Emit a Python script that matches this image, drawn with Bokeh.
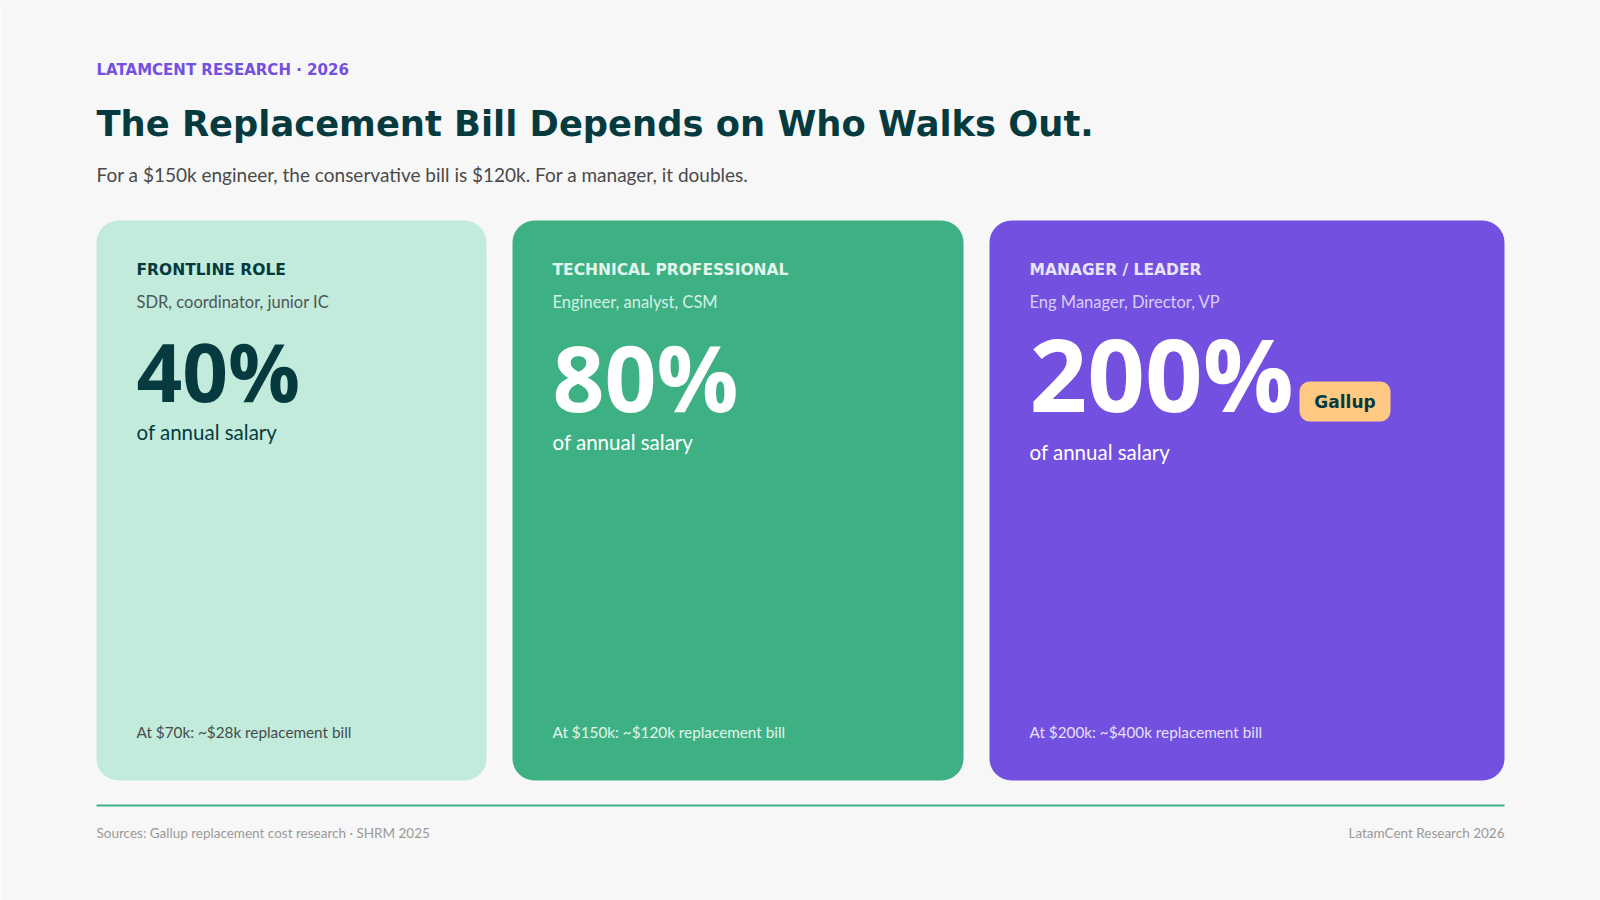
from bokeh.core.properties import value
from bokeh.embed import file_html
from bokeh.models import BoxAnnotation, ColumnDataSource, Range1d
from bokeh.plotting import figure
from bokeh.resources import INLINE

# ---- data ----
roles = ["FRONTLINE ROLE", "TECHNICAL PROFESSIONAL", "MANAGER / LEADER"]
examples = ["SDR, coordinator, junior IC",
            "Engineer, analyst, CSM",
            "Eng Manager, Director, VP"]
cost_pct = [40, 80, 200]
salary_k = [70, 150, 200]
bill_k = [28, 120, 400]
source_tag = ["", "", "Gallup"]

eyebrow = "LATAMCENT RESEARCH · 2026"
title = "The Replacement Bill Depends on Who Walks Out."
subtitle = ("For a $150k engineer, the conservative bill is $120k. "
            "For a manager, it doubles.")
footer_left = "Sources: Gallup replacement cost research · SHRM 2025"
footer_right = "LatamCent Research 2026"

# ---- styles ----
BG = "#F7F7F7"
DARK = "#053A3F"
PURPLE = "#7350E0"
GREEN = "#3DB183"
card_fill = ["#C2EBDB", GREEN, PURPLE]
label_color = [DARK, "#E3F5EC", "#EAE4FB"]
desc_color = ["#4C5658", "#D6F0E4", "#D9CEF8"]
number_color = [DARK, "#FFFFFF", "#FFFFFF"]
note_color = ["#454C4D", "#E3F5EC", "#E6E0FA"]
# sizes like "100px" get read as a font weight by the font parser
number_size = [80, 91, 101]
number_base = [398, 408, 408]
salary_base = [439, 449, 459]

HEAD = "DejaVu Sans"
BODY = "Lato"
NUM = "Open Sans"

LEFT, RIGHT = 96, 1504
card_widths = [390, 451, 515]
gap = 26
card_top, card_bottom = 220, 780
pad = 40
W, H = 1600, 900
# svg text sits ~0.35em below the requested alphabetic baseline
SHIFT = 0.35


def Y(page_y):
    return H - page_y


p = figure(width=W, height=H,
           x_range=Range1d(0, W), y_range=Range1d(0, H),
           output_backend="svg", toolbar_location=None, min_border=0)
p.axis.visible = False
p.grid.visible = False
p.outline_line_color = None
p.background_fill_color = BG
p.border_fill_color = BG

# cards
card_left = []
x = LEFT
for w in card_widths:
    card_left.append(x)
    x += w + gap

for left, w, fill in zip(card_left, card_widths, card_fill):
    p.add_layout(BoxAnnotation(left=left, right=left + w,
                               top=Y(card_top), bottom=Y(card_bottom),
                               fill_color=fill, fill_alpha=1.0,
                               line_alpha=0, border_radius=22,
                               level="underlay"))

text_x = [left + pad for left in card_left]


def add_text(xs, ys, texts, font, size, color, bold=False, align="left"):
    n = len(texts)
    sizes = size if isinstance(size, list) else [size] * n
    colors = color if isinstance(color, list) else [color] * n
    src = ColumnDataSource(dict(
        x=xs,
        y=[Y(b - SHIFT * s) for b, s in zip(ys, sizes)],
        text=texts,
        color=colors,
        size=[f"{s}px" for s in sizes]))
    p.text(x="x", y="y", text="text", source=src,
           text_font=value(font),
           text_font_style="bold" if bold else "normal",
           text_font_size="size", text_color="color",
           text_align=align, text_baseline="alphabetic")


# header
add_text([LEFT], [75], [eyebrow], HEAD, 15, PURPLE, bold=True)
add_text([LEFT], [135], [title], HEAD, 35.3, DARK, bold=True)
add_text([LEFT], [181], [subtitle], BODY, 19, "#4A4A4A")

# card contents
add_text(text_x, [275] * 3, roles, HEAD, 15.5, label_color, bold=True)
add_text(text_x, [307] * 3, examples, BODY, 16.5, desc_color)
add_text(text_x, number_base, [f"{v}%" for v in cost_pct], NUM,
         number_size, number_color, bold=True)
add_text(text_x, salary_base, ["of annual salary"] * 3, BODY, 20.5,
         number_color)
notes = [f"At ${s}k: ~${b}k replacement bill"
         for s, b in zip(salary_k, bill_k)]
add_text(text_x, [737] * 3, notes, BODY, 15.3, note_color)

# source pill on the cards that carry one
for i, tag in enumerate(source_tag):
    if not tag:
        continue
    pill_left = card_left[i] + 310
    p.add_layout(BoxAnnotation(left=pill_left, right=pill_left + 91,
                               top=Y(381), bottom=Y(421),
                               fill_color="#FFC983", fill_alpha=1.0,
                               line_alpha=0, border_radius=10,
                               level="underlay"))
    add_text([pill_left + 45.5], [407], [tag], HEAD, 17, DARK,
             bold=True, align="center")

# footer
p.segment(x0=[LEFT], y0=[Y(805)], x1=[RIGHT], y1=[Y(805)],
          line_color=GREEN, line_width=2)
add_text([LEFT], [837], [footer_left], BODY, 13.5, "#9A9A9A")
add_text([RIGHT], [837], [footer_right], BODY, 13.5, "#9A9A9A",
         align="right")

open("out.html", "w").write(file_html(p, INLINE))
